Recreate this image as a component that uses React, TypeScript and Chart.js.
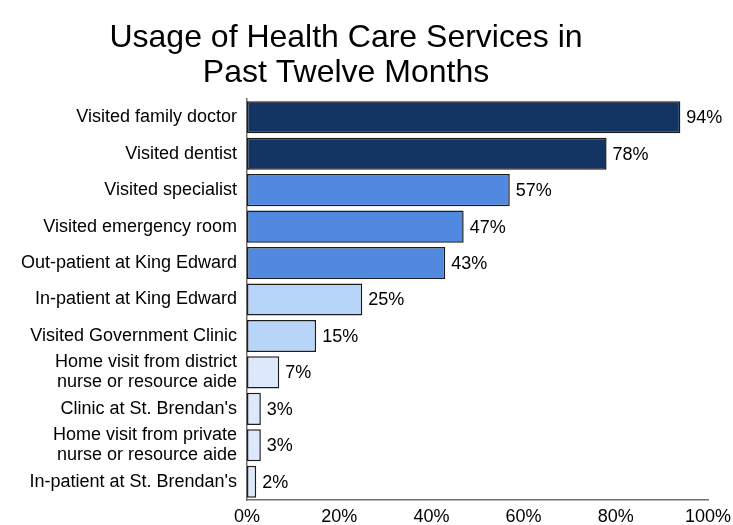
import React, { useEffect, useRef } from "react";
import { Chart, registerables } from "chart.js";

Chart.register(...registerables);

const TITLE_LINES = ["Usage of Health Care Services in", "Past Twelve Months"];

const CATEGORIES: (string | string[])[] = [
  "Visited family doctor",
  "Visited dentist",
  "Visited specialist",
  "Visited emergency room",
  "Out-patient at King Edward",
  "In-patient at King Edward",
  "Visited Government Clinic",
  ["Home visit from district", "nurse or resource aide"],
  "Clinic at St. Brendan's",
  ["Home visit from private", "nurse or resource aide"],
  "In-patient at St. Brendan's",
];

const VALUES = [94, 78, 57, 47, 43, 25, 15, 7, 3, 3, 2];

const DARK = "#133563";
const MEDIUM = "#5289E0";
const LIGHT = "#B7D5F9";
const LIGHTEST = "#DCE8FC";

const BAR_COLORS = [DARK, DARK, MEDIUM, MEDIUM, MEDIUM, LIGHT, LIGHT, LIGHTEST, LIGHTEST, LIGHTEST, LIGHTEST];

const X_MIN = 0;
const X_MAX = 100;
const X_STEP = 20;

const FONT = "'Liberation Sans', Arial, Helvetica, sans-serif";

const titlePlugin = {
  id: "customTitle",
  afterDraw(chart: any) {
    const ctx = chart.ctx;
    ctx.save();
    ctx.fillStyle = "#000";
    ctx.font = `32px ${FONT}`;
    ctx.textAlign = "center";
    ctx.textBaseline = "alphabetic";
    const cx = 346;
    TITLE_LINES.forEach((line, i) => {
      ctx.fillText(line, cx, 47 + i * 35);
    });
    ctx.restore();
  },
};

const valueLabelPlugin = {
  id: "valueLabels",
  afterDatasetsDraw(chart: any) {
    const ctx = chart.ctx;
    const meta = chart.getDatasetMeta(0);
    ctx.save();
    ctx.fillStyle = "#000";
    ctx.font = `18px ${FONT}`;
    ctx.textAlign = "left";
    ctx.textBaseline = "middle";
    meta.data.forEach((bar: any, i: number) => {
      ctx.fillText(`${VALUES[i]}%`, bar.x + 6, bar.y + 1);
    });
    ctx.restore();
  },
};

export default function App() {
  const canvasRef = useRef<HTMLCanvasElement | null>(null);

  useEffect(() => {
    if (!canvasRef.current) return;
    const chart = new Chart(canvasRef.current, {
      type: "bar",
      data: {
        labels: CATEGORIES,
        datasets: [
          {
            data: VALUES,
            backgroundColor: BAR_COLORS,
            borderColor: "#1c1c1c",
            borderWidth: 1.5,
            borderSkipped: false,
            barPercentage: 0.88,
            categoryPercentage: 1,
          },
        ],
      },
      options: {
        indexAxis: "y",
        animation: false,
        responsive: false,
        maintainAspectRatio: false,
        layout: { padding: { top: 99, right: 25, left: 0, bottom: 0 } },
        plugins: {
          legend: { display: false },
          title: { display: false },
          tooltip: { enabled: false },
        },
        scales: {
          x: {
            min: X_MIN,
            max: X_MAX,
            grid: { display: false, drawTicks: false },
            border: { display: true, color: "#707070", width: 1.5 },
            ticks: {
              stepSize: X_STEP,
              padding: 8,
              color: "#000",
              font: { family: FONT, size: 18, lineHeight: 1 },
              callback: (v: any) => `${v}%`,
            },
            afterFit: (scale: any) => {
              scale.height = 30;
              scale.paddingRight = 0;
              scale.paddingLeft = 0;
            },
          },
          y: {
            grid: { display: false, drawTicks: false },
            border: { display: true, color: "#707070", width: 1.5 },
            ticks: {
              padding: 10,
              color: "#000",
              autoSkip: false,
              font: { family: FONT, size: 18, lineHeight: 1.1 },
            },
            afterFit: (scale: any) => {
              scale.width = 247;
              scale.paddingTop = 0;
              scale.paddingBottom = 0;
            },
          },
        },
      },
      plugins: [titlePlugin, valueLabelPlugin],
    });
    return () => chart.destroy();
  }, []);

  return (
    <div style={{ position: "fixed", left: 0, top: 0, width: 733, height: 530, background: "#fff" }}>
      <canvas ref={canvasRef} width={733} height={530} style={{ width: 733, height: 530, display: "block" }} />
    </div>
  );
}
